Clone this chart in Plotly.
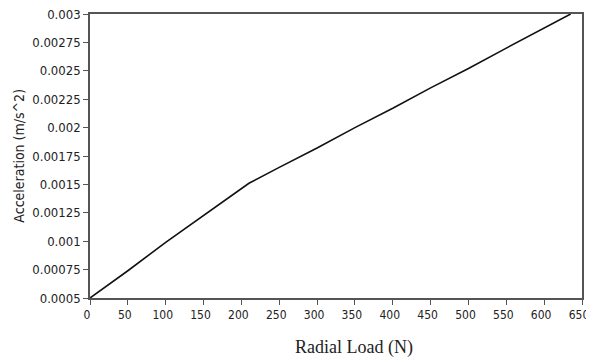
import plotly.graph_objects as go

radial_load = [0, 50, 100, 150, 200, 210, 250, 300, 350, 400, 450, 500, 550, 600, 635]
acceleration = [0.0005, 0.00074, 0.00099, 0.00123, 0.00147, 0.00151, 0.00165, 0.00182,
                0.00200, 0.00217, 0.00235, 0.00252, 0.00270, 0.00288, 0.0030]

x_ticks = list(range(0, 651, 50))
y_ticks = [0.0005, 0.00075, 0.001, 0.00125, 0.0015, 0.00175, 0.002, 0.00225,
           0.0025, 0.00275, 0.003]
y_labels = ["0.0005", "0.00075", "0.001", "0.00125", "0.0015", "0.00175", "0.002",
            "0.00225", "0.0025", "0.00275", "0.003"]

fig = go.Figure()
fig.add_trace(go.Scatter(x=radial_load, y=acceleration, mode="lines",
                         line=dict(color="#111111", width=1.6), showlegend=False))

tick_family = "DejaVu Sans Condensed, DejaVu Sans"

# page body has an 8px default margin; margins offset to compensate
fig.update_layout(
    width=594, height=362,
    margin=dict(l=82, r=20, t=6, b=72),
    paper_bgcolor="white", plot_bgcolor="white",
    font=dict(family=tick_family, size=12, color="#222"),
    annotations=[
        dict(text="Radial Load (N)", xref="paper", yref="paper", x=0.537, y=0,
             xanchor="center", yanchor="middle", yshift=-49, showarrow=False,
             font=dict(family="Liberation Serif", size=18, color="#222")),
        dict(text="Acceleration (m/s^2)", xref="paper", yref="paper", x=-0.145, y=0.5,
             xanchor="center", yanchor="middle", textangle=-90, showarrow=False,
             font=dict(family=tick_family, size=14, color="#222")),
    ],
)
fig.update_xaxes(
    range=[0, 650], tickvals=x_ticks, ticks="outside", ticklen=5, tickcolor="#555",
    showgrid=False, zeroline=False, showline=True, linecolor="#555", linewidth=1.5,
    mirror=True, automargin=False, ticklabeloverflow="allow", ticklabelshift=-3,
    tickfont=dict(family=tick_family, size=12, color="#222"),
)
fig.update_yaxes(
    range=[0.0005, 0.003], tickvals=y_ticks, ticktext=y_labels, ticks="outside", ticklen=5,
    tickcolor="#555", showgrid=False, zeroline=False, showline=True, linecolor="#555",
    linewidth=1.5, mirror=True, automargin=False, ticklabeloverflow="allow",
    tickfont=dict(family=tick_family, size=13, color="#222"),
)
fig.write_html("out.html")
